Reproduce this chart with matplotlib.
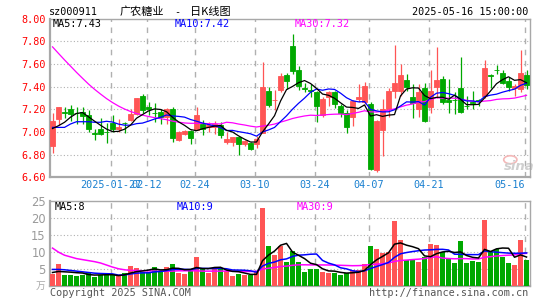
import numpy as np
import matplotlib
matplotlib.use("Agg")
import matplotlib.pyplot as plt
from matplotlib.patches import Ellipse

# ---------------- data ----------------
dates = ["01-13","01-14","01-15","01-16","01-17","01-20","01-21","01-22","01-23","01-24",
         "01-27","02-05","02-06","02-07","02-10","02-11","02-12","02-13","02-14","02-17",
         "02-18","02-19","02-20","02-21","02-24","02-25","02-26","02-27","02-28","03-03",
         "03-04","03-05","03-06","03-07","03-10","03-11","03-12","03-13","03-14","03-17",
         "03-18","03-19","03-20","03-21","03-24","03-25","03-26","03-27","03-28","03-31",
         "04-01","04-02","04-03","04-07","04-08","04-09","04-10","04-11","04-14","04-15",
         "04-16","04-17","04-18","04-21","04-22","04-23","04-24","04-25","04-28","04-29",
         "04-30","05-06","05-07","05-08","05-09","05-12","05-13","05-14","05-15","05-16"]

opens = [6.88, 7.11, 7.18, 7.20, 7.17, 7.18, 7.15, 6.99, 7.03, 7.00,
         7.08, 7.03, 7.08, 7.105, 7.16, 7.32, 7.22, 7.17, 7.18, 7.13,
         7.20, 6.925, 6.985, 7.01, 7.02, 7.07, 7.04, 7.047, 7.06, 6.915,
         6.915, 6.955, 6.89, 6.905, 6.89, 6.99, 7.36, 7.28, 7.37, 7.50,
         7.76, 7.545, 7.385, 7.37, 7.35, 7.145, 7.31, 7.35, 7.23, 7.17,
         7.135, 7.29, 7.26, 7.245, 6.66, 7.02, 7.20, 7.36, 7.36, 7.46,
         7.31, 7.20, 7.39, 7.22, 7.40, 7.465, 7.28, 7.285, 7.39, 7.23,
         7.26, 7.28, 7.32, 7.50, 7.55, 7.52, 7.45, 7.39, 7.38, 7.50]
closes = [7.10, 7.22, 7.17, 7.16, 7.165, 7.14, 7.03, 6.98, 6.98, 6.995,
          7.03, 7.04, 7.075, 7.16, 7.30, 7.19, 7.20, 7.165, 7.135, 7.20,
          6.945, 7.00, 7.01, 6.95, 7.15, 7.03, 7.06, 7.067, 6.975, 6.94,
          6.955, 6.89, 6.92, 6.85, 6.94, 7.40, 7.24, 7.285, 7.495, 7.445,
          7.54, 7.405, 7.38, 7.365, 7.23, 7.29, 7.35, 7.25, 7.165, 7.04,
          7.275, 7.305, 7.405, 6.675, 7.10, 7.20, 7.36, 7.43, 7.50, 7.40,
          7.255, 7.35, 7.10, 7.36, 7.46, 7.26, 7.26, 7.28, 7.18, 7.225,
          7.255, 7.275, 7.56, 7.49, 7.545, 7.435, 7.40, 7.405, 7.52, 7.41]
highs = [7.17, 7.22, 7.22, 7.24, 7.22, 7.22, 7.19, 7.03, 7.12, 7.08,
         7.15, 7.11, 7.09, 7.20, 7.30, 7.33, 7.26, 7.255, 7.20, 7.215,
         7.22, 7.01, 7.02, 7.02, 7.22, 7.105, 7.09, 7.10, 7.09, 7.00,
         6.955, 6.955, 6.925, 6.91, 6.96, 7.62, 7.40, 7.37, 7.52, 7.52,
         7.86, 7.58, 7.435, 7.42, 7.365, 7.305, 7.365, 7.365, 7.245, 7.19,
         7.28, 7.42, 7.44, 7.26, 7.105, 7.29, 7.39, 7.77, 7.60, 7.51,
         7.42, 7.42, 7.43, 7.55, 7.75, 7.495, 7.47, 7.35, 7.66, 7.32,
         7.36, 7.29, 7.63, 7.51, 7.59, 7.545, 7.48, 7.42, 7.72, 7.55]
lows = [6.81, 7.06, 7.12, 7.10, 7.07, 7.07, 7.00, 6.93, 6.97, 6.90,
        7.00, 7.00, 6.99, 7.10, 7.15, 7.17, 7.15, 7.085, 7.07, 7.07,
        6.915, 6.92, 6.975, 6.895, 7.015, 6.975, 7.00, 6.98, 6.945, 6.895,
        6.88, 6.80, 6.88, 6.84, 6.855, 6.99, 7.22, 7.19, 7.35, 7.38,
        7.51, 7.37, 7.35, 7.31, 7.085, 7.13, 7.23, 7.215, 7.13, 6.99,
        7.055, 7.26, 7.245, 6.66, 6.645, 6.79, 7.13, 7.30, 7.32, 7.36,
        7.12, 7.13, 7.085, 7.17, 7.30, 7.245, 7.17, 7.16, 7.17, 7.20,
        7.20, 7.23, 7.30, 7.39, 7.51, 7.42, 7.36, 7.32, 7.35, 7.38]
volumes = [3.6, 6.4, 3.3, 3.1, 2.8, 3.1, 4.1, 2.6, 3.3, 3.1,
           3.1, 2.8, 3.8, 5.8, 5.3, 4.1, 4.1, 5.5, 4.3, 5.6,
           6.4, 3.8, 3.5, 4.8, 8.4, 4.8, 3.8, 5.1, 5.1, 4.3,
           2.8, 3.4, 3.1, 3.1, 4.3, 23.0, 11.7, 9.0, 11.7, 7.0,
           10.2, 7.0, 4.1, 4.9, 4.9, 4.1, 3.8, 3.8, 3.1, 3.8,
           4.6, 4.6, 6.4, 11.7, 10.8, 9.7, 10.0, 19.1, 13.5, 7.5,
           7.5, 7.0, 8.5, 12.3, 12.0, 10.0, 8.0, 6.7, 13.2, 6.7,
           7.3, 7.0, 19.4, 10.0, 10.7, 8.5, 6.7, 6.1, 13.5, 7.5]

# moving-average values at the left edge (they depend on days before the window)
ma5_lead = [7.03, 7.055, 7.085, 7.13]
ma10_lead = [7.04, 7.04, 7.04, 7.07, 7.09, 7.09, 7.09, 7.085, 7.085]
ma30_lead = [7.750, 7.692, 7.635, 7.580, 7.525, 7.473, 7.422, 7.376, 7.334, 7.294,
             7.259, 7.228, 7.202, 7.180, 7.163, 7.148, 7.136, 7.126, 7.117, 7.108,
             7.095, 7.086, 7.079, 7.076, 7.076, 7.075, 7.073, 7.072, 7.070]
vma5_lead = [3.9, 4.2, 4.1, 4.0]
vma10_lead = [4.8, 4.8, 4.7, 4.5, 4.3, 4.1, 3.9, 3.7, 3.6]
vma30_lead = [11.1, 9.9, 9.0, 8.5, 8.0, 7.7, 7.4, 7.1, 6.7, 6.1,
              5.5, 5.0, 4.7, 4.5, 4.5, 4.4, 4.4, 4.3, 4.3, 4.3,
              4.3, 4.4, 4.4, 4.4, 4.4, 4.3, 4.3, 4.3, 4.3]

tick_idx = [10, 16, 24, 34, 44, 53, 63, 79]
tick_labels = ["2025-01-27", "02-12", "02-24", "03-10", "03-24", "04-07", "04-21", "05-16"]
price_ticks = [6.60, 6.80, 7.00, 7.20, 7.40, 7.60, 7.80, 8.00]
vol_ticks = [5, 10, 15, 20, 25]

legend_price = ["MA5:7.43", "MA10:7.42", "MA30:7.32"]
legend_vol = ["MA5:8", "MA10:9", "MA30:9"]

# ---------------- helpers ----------------
def moving_avg(vals, n, lead):
    vals = np.asarray(vals, float)
    out = np.empty(len(vals))
    out[:n - 1] = lead
    for i in range(n - 1, len(vals)):
        out[i] = vals[i - n + 1:i + 1].mean()
    return out

W, H = 545, 300
fig = plt.figure(figsize=(W / 100, H / 100), dpi=100)
fig.patch.set_facecolor("white")

def px_axes(l, t, r, b):
    return fig.add_axes([l / W, 1 - b / H, (r - l) / W, (b - t) / H])

def T(x, y, s, **kw):
    return fig.text(x / W, 1 - y / H, s, **kw)

MONO = "DejaVu Sans Mono"
CJK = ["Noto Sans CJK SC", "DejaVu Sans"]
RED = "#ff5555"
GREEN = "#00a800"
GRID = "#b0b0b0"
FRAME = "#a8a8a8"
XLAB = "#1a80d0"

n = len(closes)
x = np.arange(n)
o = np.array(opens); c = np.array(closes); h = np.array(highs); l = np.array(lows)
up = c >= o
cols = np.where(up, RED, GREEN)

ma5 = moving_avg(closes, 5, ma5_lead)
ma10 = moving_avg(closes, 10, ma10_lead)
ma30 = moving_avg(closes, 30, ma30_lead)
vma5 = moving_avg(volumes, 5, vma5_lead)
vma10 = moving_avg(volumes, 10, vma10_lead)
vma30 = moving_avg(volumes, 30, vma30_lead)

xmin, xmax = -0.42, n - 0.42
vline_pos = np.array(tick_idx) - 0.3

def style_frame(a):
    for s in a.spines.values():
        s.set_color(FRAME)
        s.set_linewidth(1.0)
    a.spines["left"].set_linewidth(1.6)
    a.spines["bottom"].set_linewidth(1.6)
    a.set_facecolor("white")

# ---------------- price panel ----------------
ax = px_axes(50, 18.5, 530, 177.3)
style_frame(ax)
ax.set_xlim(xmin, xmax)
ax.set_ylim(6.60, 8.00)
ax.hlines(price_ticks[1:-1], xmin, xmax, colors=GRID, linestyles=(0, (1, 2)), linewidth=0.8, zorder=1)
ax.vlines(vline_pos, 6.60, 8.00, colors=GRID, linestyles=(0, (4, 4)), linewidth=1.0, zorder=1)

ax.vlines(x, l, h, colors=cols, linewidth=0.9, zorder=2)
body_h = np.maximum(np.abs(c - o), 0.004)
ax.bar(x, body_h, bottom=np.minimum(o, c), width=0.78, color=cols, edgecolor=cols,
       linewidth=0.6, zorder=3)

ax.plot(x, ma30, color="#ff00ff", linewidth=0.9, zorder=4)
ax.plot(x, ma10, color="#0000ff", linewidth=0.9, zorder=5)
ax.plot(x, ma5, color="black", linewidth=0.9, zorder=6)

ax.set_yticks(price_ticks)
ax.set_yticklabels([f"{p:.2f}" for p in price_ticks])
ax.tick_params(axis="y", length=0, pad=3, labelcolor="#ff0000", labelsize=7.3)
for t in ax.get_yticklabels():
    t.set_family(MONO)
ax.set_xticks(vline_pos)
ax.set_xticklabels(tick_labels)
ax.tick_params(axis="x", length=0, pad=2.2, labelcolor=XLAB, labelsize=7.3)
for t in ax.get_xticklabels():
    t.set_family(MONO)
ax.get_xticklabels()[-1].set_horizontalalignment("right")

# sina watermark
ax.add_patch(Ellipse((76.3, 6.755), 2.2, 0.07, fill=False, edgecolor="#f4b8b8", linewidth=1.2, zorder=2))
ax.text(77.8, 6.665, "sina", fontsize=9.5, fontweight="bold", style="italic", color="#cfcfcf",
        ha="center", va="baseline", zorder=2)

# ---------------- volume panel ----------------
av = px_axes(50, 201, 530, 285.7)
style_frame(av)
av.set_xlim(xmin, xmax)
av.set_ylim(0, 25)
av.hlines(vol_ticks[:-1], xmin, xmax, colors=GRID, linestyles=(0, (1, 2)), linewidth=0.8, zorder=1)
av.vlines(vline_pos, 0, 25, colors=GRID, linestyles=(0, (4, 4)), linewidth=1.0, zorder=1)
av.bar(x, volumes, width=0.78, color=cols, linewidth=0, zorder=3)
av.plot(x, vma30, color="#ff00ff", linewidth=1.1, zorder=4)
av.plot(x, vma10, color="#0000ff", linewidth=1.1, zorder=5)
av.plot(x, vma5, color="black", linewidth=1.1, zorder=6)
av.set_xticks([])
av.set_yticks(vol_ticks)
av.set_yticklabels([str(v) for v in vol_ticks])
av.tick_params(axis="y", length=0, pad=3, labelcolor="#9a9a9a", labelsize=8.3)

# ---------------- texts ----------------
T(49, 12, "sz000911", family=MONO, fontsize=7.3, color="black", va="center", ha="left")
T(120, 12, "广农糖业", family=CJK, fontsize=8, color="black", va="center", ha="left")
T(177, 12, "-", family=MONO, fontsize=7.3, color="black", va="center", ha="center")
T(190, 12, "日K线图", family=CJK, fontsize=8, color="black", va="center", ha="left")
T(528, 12, "2025-05-16 15:00:00", family=MONO, fontsize=7.3, color="black", va="center", ha="right")

lx = [53, 175, 295]
lc = ["black", "#0000ff", "#ff00ff"]
for xx, s, cc in zip(lx, legend_price, lc):
    T(xx, 24, s, family=MONO, fontsize=7.3, color=cc, va="center", ha="left")
for xx, s, cc in zip(lx, legend_vol, lc):
    T(xx + 2, 206.5, s, family=MONO, fontsize=7.3, color=cc, va="center", ha="left")

T(45, 286, "万", family=CJK, fontsize=7, color="#aaaaaa", va="center", ha="right")
T(50, 292.5, "Copyright 2025 SINA.COM", family=MONO, fontsize=7.3, color="#555555", va="center", ha="left")
T(528, 292.5, "http://finance.sina.com.cn", family=MONO, fontsize=7.3, color="#555555", va="center", ha="right")

fig.savefig("out.png", dpi=100, facecolor="white")
